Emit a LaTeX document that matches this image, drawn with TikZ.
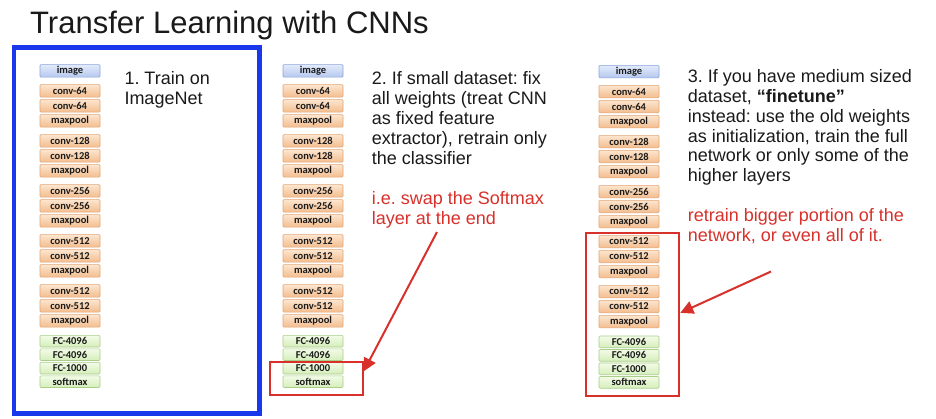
\documentclass[tikz,border=0pt]{standalone}
\usepackage{fontspec}
\setmainfont{Liberation Sans}
\newfontfamily\boxfont{Carlito}
\usetikzlibrary{arrows.meta,calc}
\frenchspacing
\definecolor{ink}{HTML}{1A1A1A}
\definecolor{redc}{HTML}{D8302A}
\definecolor{bluec}{RGB}{25,55,235}
\definecolor{imgtop}{HTML}{E3EBFA}
\definecolor{imgbot}{HTML}{B5C8EE}
\definecolor{imgedge}{HTML}{8AA4DC}
\definecolor{convtop}{HTML}{FCE5CF}
\definecolor{convbot}{HTML}{F3BD8E}
\definecolor{convedge}{HTML}{E2A676}
\definecolor{fctop}{HTML}{F3FBE8}
\definecolor{fcbot}{HTML}{D5EEBA}
\definecolor{fcedge}{HTML}{A8CE88}
\tikzset{
  layer/.style={rectangle, minimum width=60pt, minimum height=12.5pt, inner sep=0pt,
    font=\boxfont\bfseries\fontsize{10.5}{10.5}\selectfont, text=ink, rounded corners=1pt, line width=0.6pt},
  imgbox/.style={layer, draw=imgedge, top color=imgtop, bottom color=imgbot},
  convbox/.style={layer, draw=convedge, top color=convtop, bottom color=convbot},
  fcbox/.style={layer, minimum height=11.7pt, draw=fcedge, top color=fctop, bottom color=fcbot},
  body/.style={anchor=base west, inner sep=0pt, font=\fontsize{18}{20}\selectfont, text=ink},
  note/.style={body, text=redc},
  redbox/.style={draw=redc, line width=2pt, rectangle, inner sep=0pt},
  bluebox/.style={draw=bluec, line width=4.5pt, rectangle, inner sep=0pt},
  redarrow/.style={draw=redc, line width=2pt, -{Triangle[length=13pt,width=13pt]}},
}
\newcommand\cnncolumn[3]{%
  \node[imgbox, anchor=north] (#1img) at (#2,#3) {image};
  \foreach \g/\lab in {0/64,1/128,2/256,3/512,4/512}{
    \node[convbox, anchor=north] (#1c\g a) at (#2,{#3+20+50*\g}) {conv-\lab};
    \node[convbox, anchor=north] (#1c\g b) at (#2,{#3+35+50*\g}) {conv-\lab};
    \node[convbox, anchor=north] (#1p\g) at (#2,{#3+50+50*\g}) {maxpool};
  }
  \node[fcbox, anchor=north] (#1fa) at (#2,{#3+270.7}) {FC-4096};
  \node[fcbox, anchor=north] (#1fb) at (#2,{#3+284.2}) {FC-4096};
  \node[fcbox, anchor=north] (#1fc) at (#2,{#3+297.7}) {FC-1000};
  \node[fcbox, anchor=north] (#1sm) at (#2,{#3+311.2}) {softmax};
}
\begin{document}
\begin{tikzpicture}[x=1pt,y=-1pt]
\useasboundingbox (0,0) rectangle (936,418);
\fill[white] (0,0) rectangle (936,418);

\node[anchor=base west, inner sep=0pt, font=\fontsize{31}{31}\selectfont, text=ink] (title) at (30,33) {Transfer Learning with CNNs};

\node[bluebox, minimum width=245.5pt, minimum height=366.2pt] (blue) at (136.75,230.6) {};

\cnncolumn{a}{70}{64.3}
\cnncolumn{b}{313}{64.3}
\cnncolumn{c}{629}{65}

% column 1 text
\node[body] (t1a) at (124.3,84.3) {1. Train on};
\node[body] (t1b) at (124.3,104.3) {ImageNet};

% column 2 text
\node[body] (t2a) at (371.7,84.3) {2. If small dataset: fix};
\node[body] (t2b) at (371.7,104.3) {all weights (treat CNN};
\node[body] (t2c) at (371.7,124.3) {as fixed feature};
\node[body] (t2d) at (371.7,144.3) {extractor), retrain only};
\node[body] (t2e) at (371.7,164.3) {the classifier};
\node[note] (n2a) at (371.7,204.3) {i.e. swap the Softmax};
\node[note] (n2b) at (371.7,224.3) {layer at the end};

% column 3 text
\node[body] (t3a) at (687.7,82.3) {3. If you have medium sized};
\node[body] (t3b) at (687.7,102.2) {dataset, \textbf{“finetune”}};
\node[body] (t3c) at (687.7,122.1) {instead: use the old weights};
\node[body] (t3d) at (687.7,142) {as initialization, train the full};
\node[body] (t3e) at (687.7,161.9) {network or only some of the};
\node[body] (t3f) at (687.7,181.7) {higher layers};
\node[note] (n3a) at (687.7,221.7) {retrain bigger portion of the};
\node[note] (n3b) at (687.7,241.5) {network, or even all of it.};

% red boxes and arrows
\node[redbox, minimum width=92.7pt, minimum height=33.3pt] (rb2) at (316.35,378.35) {};
\node[redbox, minimum width=93.3pt, minimum height=162.4pt] (rb3) at (632.65,314.5) {};
\coordinate (a2s) at (437,232);
\coordinate (a3s) at (771,271.5);
\draw[redarrow] (a2s) -- ($(rb2.north east)!0.3!(rb2.south east)$);
\draw[redarrow] (a3s) -- ($(rb3.north east)!0.49!(rb3.south east)$);
\end{tikzpicture}
\end{document}
